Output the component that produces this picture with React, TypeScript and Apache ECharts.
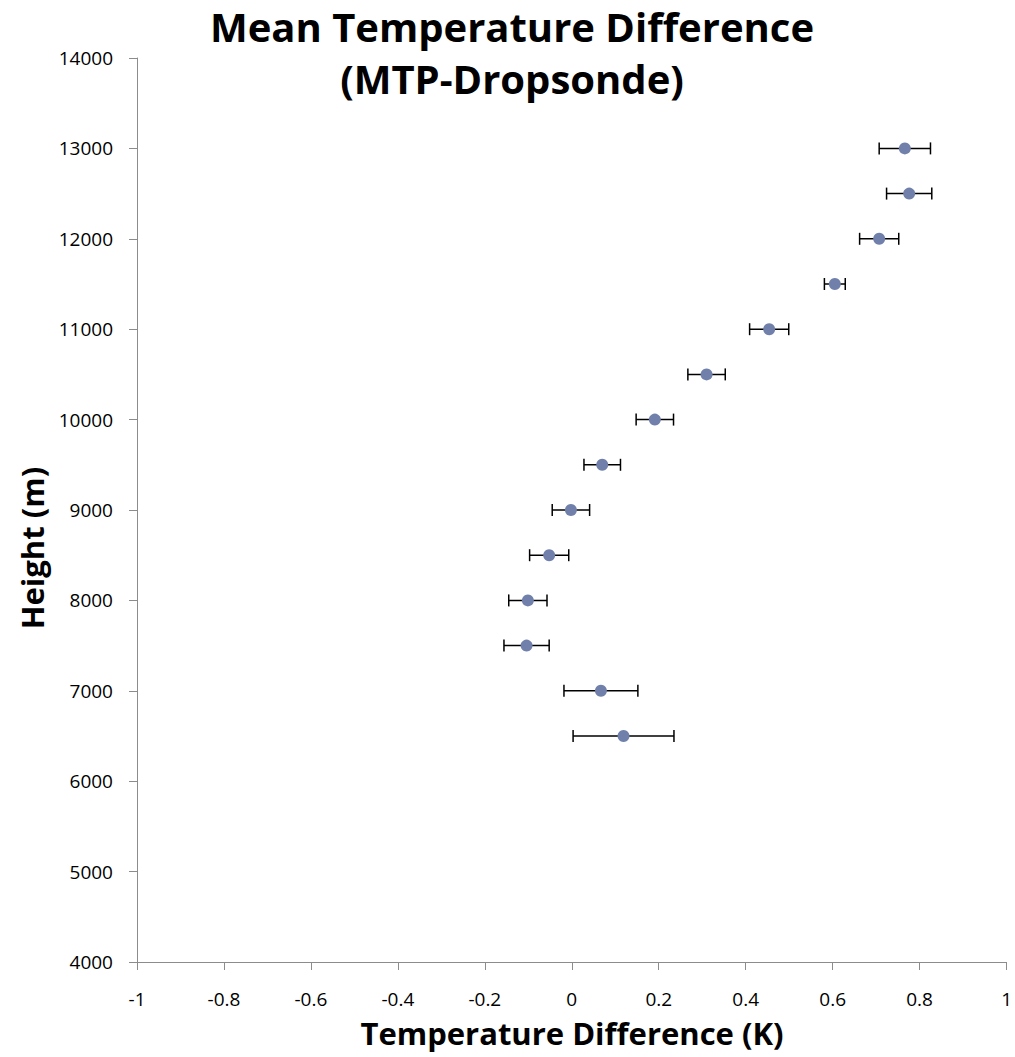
import React, { useEffect, useRef } from "react";
import * as echarts from "echarts";

const heights = [6500, 7000, 7500, 8000, 8500, 9000, 9500, 10000, 10500, 11000, 11500, 12000, 12500, 13000];
const means = [0.119, 0.067, -0.104, -0.101, -0.052, -0.002, 0.07, 0.191, 0.31, 0.454, 0.605, 0.707, 0.776, 0.766];
const errors = [0.116, 0.085, 0.052, 0.044, 0.045, 0.043, 0.042, 0.043, 0.043, 0.045, 0.024, 0.045, 0.052, 0.059];

const titleLines = ["Mean Temperature Difference", "(MTP-Dropsonde)"];
const xTitle = "Temperature Difference (K)";
const yTitle = "Height (m)";

const FONT = "'Open Sans', sans-serif";

export default function App() {
  const ref = useRef<HTMLDivElement>(null);
  useEffect(() => {
    if (!ref.current) return;
    const chart = echarts.init(ref.current, null, { renderer: "svg" });
    const pts = heights.map((h, i) => [means[i], h]);
    const bars = heights.map((h, i) => [means[i] - errors[i], means[i] + errors[i], h]);
    chart.setOption({
      animation: false,
      backgroundColor: "#ffffff",
      grid: { left: 137, right: 8, top: 58, bottom: 95 },
      graphic: [
        {
          type: "text",
          x: 512,
          y: 26,
          style: {
            text: titleLines[0],
            font: `bold 40px ${FONT}`,
            fill: "#000",
            align: "center",
            verticalAlign: "middle",
            lineHeight: 44,
          },
        },
        {
          type: "text",
          x: 512,
          y: 78,
          style: {
            text: titleLines[1],
            font: `bold 40px ${FONT}`,
            fill: "#000",
            align: "center",
            verticalAlign: "middle",
            lineHeight: 44,
          },
        },
        {
          type: "text",
          x: 572,
          y: 1033,
          style: {
            text: xTitle,
            font: `bold 31px ${FONT}`,
            fill: "#000",
            align: "center",
            verticalAlign: "middle",
          },
        },
        {
          type: "text",
          x: 32,
          y: 548,
          rotation: Math.PI / 2,
          style: {
            text: yTitle,
            font: `bold 31px ${FONT}`,
            fill: "#000",
            align: "center",
            verticalAlign: "middle",
          },
        },
      ],
      xAxis: {
        type: "value",
        min: -1,
        max: 1,
        interval: 0.2,
        splitLine: { show: false },
        axisLine: { show: true, onZero: false, lineStyle: { color: "#8c8c8c", width: 1 } },
        axisTick: { show: true, length: 8, lineStyle: { color: "#8c8c8c" } },
        axisLabel: {
          margin: 27,
          color: "#000",
          fontSize: 19,
          fontFamily: FONT,
          formatter: (v: number) => String(Math.round(v * 10) / 10),
        },
      },
      yAxis: {
        type: "value",
        min: 4000,
        max: 14000,
        interval: 1000,
        splitLine: { show: false },
        axisLine: { show: true, onZero: false, lineStyle: { color: "#8c8c8c", width: 1 } },
        axisTick: { show: true, length: 8, lineStyle: { color: "#8c8c8c" } },
        axisLabel: {
          margin: 24,
          color: "#000",
          fontSize: 19,
          fontFamily: FONT,
          formatter: (v: number) => String(v),
        },
      },
      series: [
        {
          type: "custom",
          data: bars,
          z: 2,
          renderItem: (params: any, api: any) => {
            const lo = api.coord([api.value(0), api.value(2)]);
            const hi = api.coord([api.value(1), api.value(2)]);
            const c = 6;
            const st = { stroke: "#000", lineWidth: 1.5 };
            return {
              type: "group",
              children: [
                { type: "line", shape: { x1: lo[0], y1: lo[1], x2: hi[0], y2: hi[1] }, style: st },
                { type: "line", shape: { x1: lo[0], y1: lo[1] - c, x2: lo[0], y2: lo[1] + c }, style: st },
                { type: "line", shape: { x1: hi[0], y1: hi[1] - c, x2: hi[0], y2: hi[1] + c }, style: st },
              ],
            };
          },
        },
        {
          type: "scatter",
          data: pts,
          z: 3,
          symbol: "circle",
          symbolSize: 12,
          itemStyle: { color: "#7080ab", opacity: 1 },
        },
      ],
    });
    return () => chart.dispose();
  }, []);
  return (
    <div
      ref={ref}
      style={{ position: "absolute", left: 0, top: 0, width: 1015, height: 1057 }}
    />
  );
}
